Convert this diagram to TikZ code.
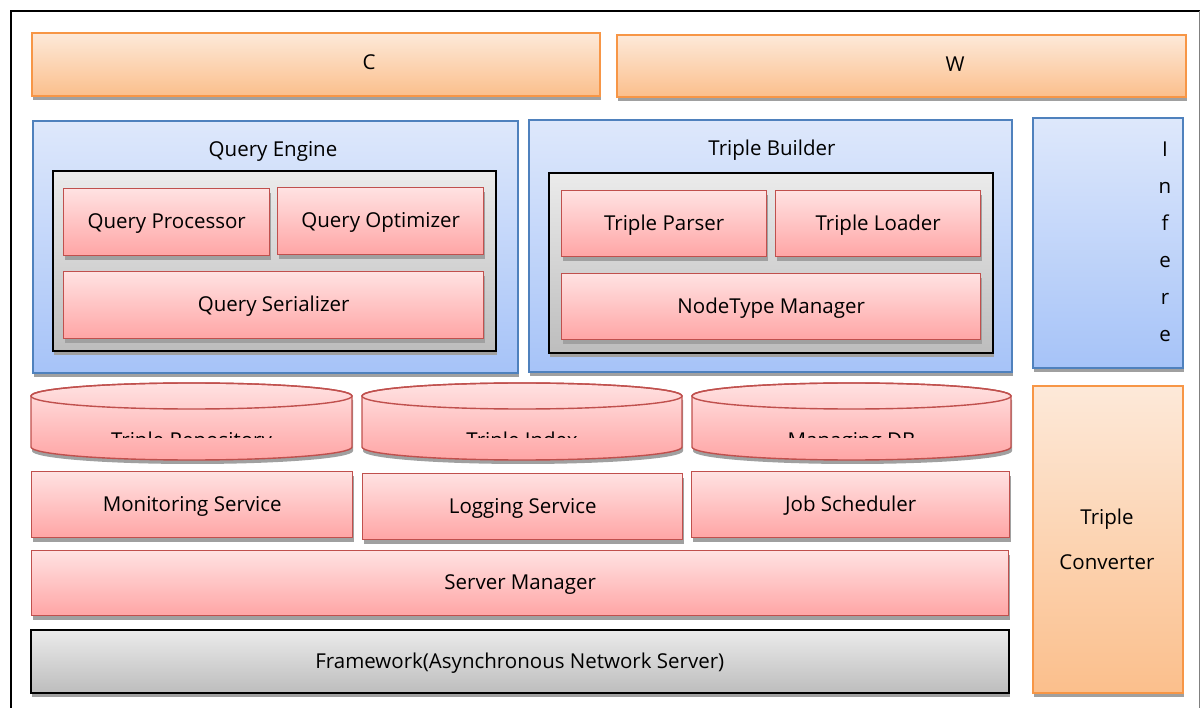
\documentclass[tikz,border=0pt]{standalone}
\usepackage{fontspec}
\setmainfont{Open Sans}
\usepackage{tikz}
\usetikzlibrary{
	shadows,
	positioning
}

\definecolor{orangeline}{HTML}{F79646}
\definecolor{orangetop}{HTML}{FDE9D9}
\definecolor{orangebot}{HTML}{FBBF8C}
\definecolor{blueline}{HTML}{4F81BD}
\definecolor{bluetop}{HTML}{DEE8FB}
\definecolor{bluebot}{HTML}{A6C3F8}
\definecolor{redline}{HTML}{C0504D}
\definecolor{redtop}{HTML}{FFE2E2}
\definecolor{redbot}{HTML}{FFA5A5}
\definecolor{graytop}{HTML}{EBEBEB}
\definecolor{graybot}{HTML}{BDBDBD}
\definecolor{shadowgray}{HTML}{A0A0A0}

\begin{document}
\begin{tikzpicture}[
				x=1pt, y=-1pt,
				font=\fontsize{20.5}{24}\selectfont,
				lbl/.style={text height=15pt, text depth=1.5pt},
				box/.style={
					rectangle, anchor=north west, inner sep=0pt, lbl,
					drop shadow={shadow xshift=1pt, shadow yshift=-4pt,
						fill=shadowgray, opacity=1}
				},
				orangebox/.style={
					box, draw=orangeline, line width=1.8pt,
					top color=orangetop, bottom color=orangebot
				},
				bluebox/.style={
					box, draw=blueline, line width=1.6pt,
					top color=bluetop, bottom color=bluebot
				},
				redbox/.style={
					box, draw=redline, line width=1.4pt,
					top color=redtop, bottom color=redbot
				},
				graybox/.style={
					box, draw=black, line width=1.6pt,
					top color=graytop, bottom color=graybot
				},
				dbline/.style={draw=redline, line width=1.4pt}
				]
				
				\useasboundingbox (0,0) rectangle (1200,708);
				
				% outer frame
				\draw[line width=2.5pt] (11,708) -- (11,11) -- (1200,11);
				\draw[gray, line width=1pt] (1199,11) -- (1199,708);
				
				% top bars
				\node[orangebox, minimum width=568pt, minimum height=63pt] (cbox) at (31,32) {};
				\node[lbl] (ctext) at (369,63) {C};
				\node[orangebox, minimum width=569pt, minimum height=62pt] (wbox) at (616,34) {};
				\node[lbl] (wtext) at (955,65) {W};
				
				% Query Engine
				\node[bluebox, minimum width=485pt, minimum height=252pt] (qe) at (32,120) {};
				\node[lbl] (qetitle) at (273,150) {Query Engine};
				\node[graybox, minimum width=443pt, minimum height=180pt] (qein) at (52,170) {};
				\node[redbox, minimum width=206pt, minimum height=67pt] (qproc) at (63,188) {Query Processor};
				\node[redbox, minimum width=206pt, minimum height=67pt] (qopt) at (277,187) {Query Optimizer};
				\node[redbox, minimum width=420pt, minimum height=67pt] (qser) at (63,271) {Query Serializer};
				
				% Triple Builder
				\node[bluebox, minimum width=483pt, minimum height=252pt] (tb) at (528,119) {};
				\node[lbl] (tbtitle) at (772,149) {Triple Builder};
				\node[graybox, minimum width=444pt, minimum height=180pt] (tbin) at (548,172) {};
				\node[redbox, minimum width=205pt, minimum height=66pt] (tparse) at (561,190) {Triple Parser};
				\node[redbox, minimum width=205pt, minimum height=66pt] (tload) at (775,190) {Triple Loader};
				\node[redbox, minimum width=419pt, minimum height=66pt] (ntmgr) at (561,273) {NodeType Manager};
				
				% Infere
				\node[bluebox, minimum width=150pt, minimum height=250pt] (infer) at (1032,117) {};
				\node[align=center, font=\fontsize{20.5}{37}\selectfont] (infertext) at (1165,242) {I\\n\\f\\e\\r\\e};
				
				% databases
				\foreach \nm/\xa/\xb/\txt in {repo/31/352/Triple Repository, tindex/362/682/Triple Index, mdb/692/1011/Managing DB} {
					\pgfmathsetmacro\rx{(\xb-\xa)/2}
					\fill[shadowgray] (\xa+1,400) -- (\xa+1,451)
						arc[start angle=180, end angle=360, x radius=\rx pt, y radius=13pt] -- (\xb+1,400) -- cycle;
					\draw[dbline, top color=redtop, bottom color=redbot] (\xa,396) -- (\xa,447)
						arc[start angle=180, end angle=360, x radius=\rx pt, y radius=13pt] -- (\xb,396)
						arc[start angle=0, end angle=180, x radius=\rx pt, y radius=13pt] -- cycle;
					\draw[dbline] (\xa+\rx,396) ellipse[x radius=\rx pt, y radius=13pt];
					\begin{scope}
						\clip (\xa,420) rectangle (\xb,437.5);
						\node[lbl] (\nm) at (\xa+\rx,441) {\txt};
					\end{scope}
				}
				
				% services
				\node[redbox, minimum width=321pt, minimum height=66pt] (monitor) at (31,471) {Monitoring Service};
				\node[redbox, minimum width=320pt, minimum height=66pt] (logging) at (362,473) {Logging Service};
				\node[redbox, minimum width=318pt, minimum height=66pt] (jobs) at (691,471) {Job Scheduler};
				\node[redbox, minimum width=977pt, minimum height=65pt] (server) at (31,550) {Server Manager};
				\node[graybox, minimum width=978pt, minimum height=63pt] (frame) at (30,629) {Framework(Asynchronous Network Server)};
				
				% Triple Converter
				\node[orangebox, minimum width=150pt, minimum height=307pt] (tconv) at (1032,385) {};
				\node[align=center, font=\fontsize{20.5}{45}\selectfont] (tconvtext) at (1107,539) {Triple\\Converter};
			\end{tikzpicture}
\end{document}
